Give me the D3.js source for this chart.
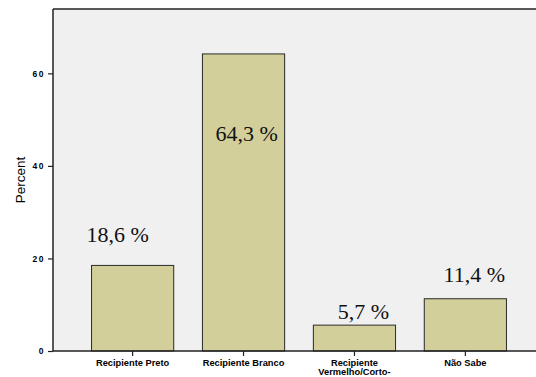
<!DOCTYPE html>
<html>
<head>
<meta charset="utf-8">
<script src="https://cdn.jsdelivr.net/npm/d3@7"></script>
<style>
  html, body { margin: 0; padding: 0; background: #fff; }
  svg { display: block; }
</style>
</head>
<body>
<div id="chart"></div>
<script>
// Categories, percentages and value labels
const categories = ["Recipiente Preto", "Recipiente Branco", "Recipiente Vermelho/Corto-", "Não Sabe"];
const categoryLines = [["Recipiente Preto"], ["Recipiente Branco"], ["Recipiente", "Vermelho/Corto-"], ["Não Sabe"]];
const percents = [18.6, 64.3, 5.7, 11.4];
const valueLabels = ["18,6 %", "64,3 %", "5,7 %", "11,4 %"];
const yTicks = [0, 20, 40, 60];

// Hand-placed label offsets (dx from bar centre, dy of baseline from bar top)
const labelDx = [-15, 3, 9, 9];
const labelDy = [-23, 88, -6, -16];

const W = 536, H = 377;
const plot = { left: 53, top: 9, right: 545, bottom: 351 };

const svg = d3.select("#chart").append("svg")
  .attr("width", W).attr("height", H);

const x = d3.scaleBand()
  .domain(categories)
  .range([plot.left, plot.right])
  .paddingInner(0.25)
  .paddingOuter(0.343);

const y = d3.scaleLinear()
  .domain([0, 73.9])
  .range([plot.bottom, plot.top]);

// Plot background
svg.append("rect")
  .attr("x", plot.left).attr("y", plot.top)
  .attr("width", plot.right - plot.left)
  .attr("height", plot.bottom - plot.top)
  .attr("fill", "#f0f0f0");

// Bars
svg.append("g").selectAll("rect")
  .data(percents)
  .join("rect")
  .attr("x", (d, i) => x(categories[i]) + 0.5)
  .attr("y", d => y(d) + 0.5)
  .attr("width", x.bandwidth() - 1)
  .attr("height", d => plot.bottom - y(d) - 0.5)
  .attr("fill", "#d3cf9a")
  .attr("stroke", "#2a2a2a")
  .attr("stroke-width", 1);

// Frame top edge
svg.append("line")
  .attr("x1", plot.left).attr("x2", W)
  .attr("y1", plot.top).attr("y2", plot.top)
  .attr("stroke", "#222").attr("stroke-width", 1.5);

// Y axis
const yAxis = svg.append("g")
  .attr("transform", `translate(${plot.left},0)`)
  .call(d3.axisLeft(y).tickValues(yTicks).tickSize(5).tickPadding(3).tickFormat(d3.format("d")));
yAxis.select(".domain").attr("stroke", "#222").attr("stroke-width", 1.5)
  .attr("d", `M0,${plot.top}V${plot.bottom}`);
yAxis.selectAll(".tick line").attr("stroke", "#222").attr("stroke-width", 1.2);
yAxis.selectAll(".tick text")
  .attr("fill", "#000")
  .style("font-family", "'Liberation Sans', Arial, sans-serif")
  .style("font-weight", "bold")
  .style("font-size", "8.5px")
  .style("letter-spacing", "1.5px");

// X axis
const xAxis = svg.append("g")
  .attr("transform", `translate(0,${plot.bottom})`)
  .call(d3.axisBottom(x).tickSize(5).tickFormat(""));
xAxis.select(".domain").attr("stroke", "#222").attr("stroke-width", 1.5)
  .attr("d", `M${plot.left},0H${W}`);
xAxis.selectAll(".tick line").attr("stroke", "#222").attr("stroke-width", 1.2);

// Category labels (wrapped)
const catText = svg.append("g").selectAll("text")
  .data(categories)
  .join("text")
  .attr("x", d => x(d) + x.bandwidth() / 2)
  .attr("y", 366)
  .attr("text-anchor", "middle")
  .attr("fill", "#000")
  .style("font-family", "'Liberation Sans', Arial, sans-serif")
  .style("font-weight", "bold")
  .style("font-size", "9.3px");
catText.each(function(d, i) {
  const t = d3.select(this);
  categoryLines[i].forEach((ln, k) => {
    t.append("tspan")
      .attr("x", x(d) + x.bandwidth() / 2)
      .attr("dy", k === 0 ? 0 : 9)
      .text(ln);
  });
});

// Y axis title
svg.append("text")
  .attr("transform", `translate(25,180) rotate(-90)`)
  .attr("text-anchor", "middle")
  .attr("fill", "#000")
  .style("font-family", "'Liberation Sans', Arial, sans-serif")
  .style("font-size", "13.5px")
  .text("Percent");

// Value labels
svg.append("g").selectAll("text")
  .data(percents)
  .join("text")
  .attr("x", (d, i) => x(categories[i]) + x.bandwidth() / 2 + labelDx[i])
  .attr("y", (d, i) => y(d) + labelDy[i])
  .attr("text-anchor", "middle")
  .attr("fill", "#111")
  .style("font-family", "'Liberation Serif', 'Times New Roman', serif")
  .style("font-size", "22px")
  .text((d, i) => valueLabels[i]);
</script>
</body>
</html>
